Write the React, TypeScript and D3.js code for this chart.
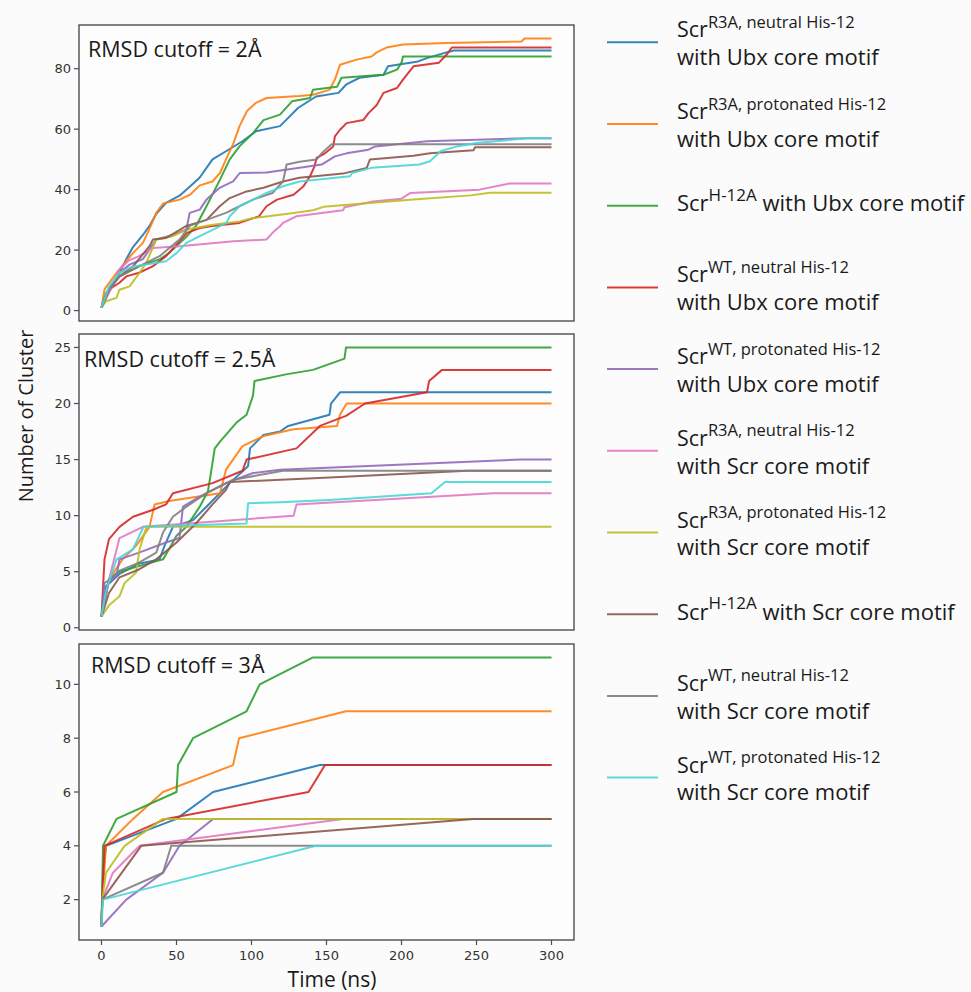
import React from "react";
import * as d3 from "d3";

type Pt = [number, number];

const TIME_TICKS = [0, 50, 100, 150, 200, 250, 300];
const PANEL_TITLES = ["RMSD cutoff = 2Å", "RMSD cutoff = 2.5Å", "RMSD cutoff = 3Å"];
const Y_TICKS_2 = [0, 20, 40, 60, 80];
const Y_TICKS_25 = [0, 5, 10, 15, 20, 25];
const Y_TICKS_3 = [2, 4, 6, 8, 10];

const SERIES_COLORS = [
  "#1f77b4", "#ff7f0e", "#2ca02c", "#d62728", "#9467bd",
  "#e377c2", "#bcbd22", "#8c564b", "#7f7f7f", "#48d6d4",
];
const LEGEND_SUP = [
  "R3A, neutral His-12", "R3A, protonated His-12", "H-12A", "WT, neutral His-12", "WT, protonated His-12",
  "R3A, neutral His-12", "R3A, protonated His-12", "H-12A", "WT, neutral His-12", "WT, protonated His-12",
];
const LEGEND_REST = [
  "with Ubx core motif", "with Ubx core motif", "with Ubx core motif", "with Ubx core motif", "with Ubx core motif",
  "with Scr core motif", "with Scr core motif", "with Scr core motif", "with Scr core motif", "with Scr core motif",
];

// ---- RMSD cutoff = 2 Å ----
const c2_blue: Pt[] = [[0,1],[5,7],[12,12.5],[16.5,17],[21,21],[27.6,25],[32,28],[36.5,32],[43,35.6],[52,38],[59,41],[65.5,44],[74,50],[83,52.7],[94,56],[103,59.3],[119,61],[123,63],[131,67],[143,70.8],[158,72],[163,74.7],[172,77],[188,78],[191,80.8],[211,82.4],[217,83.5],[230,85.4],[235,86],[300,86]];
const c2_orange: Pt[] = [[0,1],[2,7],[10,12.5],[21,19],[27.6,22.4],[32,27],[36.5,32.3],[41,35.4],[52,36.7],[59,38.3],[65.5,41.4],[74,42.7],[79,45.5],[83,50],[88,55.4],[92,61],[97,66],[103,68.7],[110,70.3],[132,71],[141,71.4],[152,73],[155.6,76.4],[159,81.3],[170,83],[180,84],[183.5,85.4],[190,87],[201,88],[230,88.5],[280,89],[282,90],[300,90]];
const c2_green: Pt[] = [[0,1],[3,5.8],[12,11.3],[25,14.6],[39,17],[45,19],[57,24.6],[63,28],[70,34.5],[79,43.3],[85.5,50],[92,54.3],[101,58.7],[108,63],[119,64.8],[127,69.2],[139,70.3],[141,73],[157,74],[160,77],[188,78],[197,79.7],[200,82],[201,84],[300,84]];
const c2_red: Pt[] = [[0,1],[5,7],[12,9.2],[16.5,11.3],[25,12.5],[34,14.6],[43,18],[57,25.7],[65.5,27.3],[74,28],[92,29],[105,31.2],[110,34.5],[117,36.7],[128,38.3],[134.5,41],[139,44.4],[142,47.7],[143.4,50.5],[149,52],[154.5,54.3],[155.6,57.6],[159,59.8],[163.4,62],[174.5,63],[178,65.3],[183.5,68],[188,72],[197,73.6],[201,76.4],[208,80.8],[225,82],[230,84.6],[233.6,87],[300,87]];
const c2_purple: Pt[] = [[0,1],[5,6],[12,12.5],[18.7,15.2],[27.6,17],[36.5,23.5],[47.6,25],[56.6,26.8],[58.8,32.3],[65.5,33.4],[70,36.7],[78.8,40.6],[87.7,42.7],[92.2,45.5],[110,45.7],[132,47.2],[146.8,48.3],[155.6,51],[163.4,52],[178,53.2],[182.4,54.3],[217,56],[284,57],[300,57]];
const c2_pink: Pt[] = [[0,1],[5,6],[12,13.6],[18,16.5],[25,18],[34,20.7],[52,21.3],[88,22.9],[110,23.5],[114,25.7],[119,27.9],[121,29],[130,31.2],[161,33.2],[162,34.2],[181,36.1],[200,37],[206,38.9],[252,40],[272,42],[300,42]];
const c2_olive: Pt[] = [[0,1],[3,3.1],[10,4.2],[12,6.9],[18.7,8],[25.4,12.5],[29.8,15.8],[36.5,23.5],[47.6,24.6],[56.6,26.8],[74.4,28.4],[92,29.5],[101,30.6],[119,31.7],[128,32.3],[141,33.2],[148,34.3],[174.5,35.4],[208,36.7],[246,38.1],[259,39],[300,39]];
const c2_brown: Pt[] = [[0,1],[5,7],[12,11.3],[21,14.6],[32,21.3],[34.3,23.5],[43,24],[56.6,28],[70,30],[78.8,34.5],[85.5,37.2],[96.7,39.4],[108,40.6],[121,42.7],[132,43.9],[161,45.3],[176.8,47.2],[179,50],[208,51.2],[219,52],[248,53],[249,54],[300,54]];
const c2_gray: Pt[] = [[0,1],[5,7],[12,11.3],[25,14.6],[38.7,18],[52,23.5],[58.8,28],[70,30],[83,32.3],[92,34.5],[101,36.7],[114,38.9],[121,42.7],[123.4,48.3],[132,49.2],[143.4,50],[146.8,52],[153.4,55],[300,55]];
const c2_cyan: Pt[] = [[0,1],[5,8],[12,12.5],[21,14.6],[29.8,15.2],[43,16.3],[50,19],[56.6,22.4],[65.5,24.6],[74.4,26.8],[83.3,29],[85.5,31.2],[92,34.5],[101,36.7],[110,38.9],[121,41.1],[132,42.7],[165.7,44.4],[167,45.5],[180,47.2],[212,48.3],[219,49.4],[226,52.7],[237,54.3],[250,55.4],[284,57],[300,57]];

// ---- RMSD cutoff = 2.5 Å ----
const c25_blue: Pt[] = [[0,1],[3,3.7],[12,4.8],[25,5.7],[38.7,6.1],[42,7.3],[47.6,9],[61,9.6],[70,10.8],[85.5,12.9],[97.7,14.4],[99,16],[108,17.2],[119,17.5],[124.5,18],[152,19],[153,20],[159,21],[300,21]];
const c25_orange: Pt[] = [[0,1],[5,4.3],[14,6.1],[23,7.3],[32,9],[35.4,11],[45,11.3],[79,12],[83,14.1],[94,16.2],[108,17.1],[128,17.7],[157,18],[159,19],[163.4,20],[300,20]];
const c25_green: Pt[] = [[0,1],[5,4.3],[12,5],[25,5.5],[41,6.1],[45,7],[50,8.2],[56.6,9],[65.5,10.8],[71,12.2],[73.3,14.1],[75.5,16],[79,16.6],[90,18.3],[96.7,19],[101,20.7],[102,22],[123,22.6],[141,23],[162,24],[163,25],[300,25]];
const c25_red: Pt[] = [[0,1],[2,6.1],[5,7.9],[12,9],[21,9.9],[34,10.5],[43,11],[47.6,12],[74,12.9],[94,14],[96.7,15],[130,16],[145.6,18],[163,18.9],[175.7,20],[217,21],[218.4,22],[227,23],[300,23]];
const c25_purple: Pt[] = [[0,1],[2,4],[10,4.6],[12,6.1],[25,6.7],[43,7.6],[52,8],[54.3,10.8],[65.5,11.7],[83,12.9],[101,13.8],[119,14.1],[279,15],[300,15]];
const c25_pink: Pt[] = [[0,1],[5,4.3],[12,8],[27.6,9],[128,10],[130,11],[261,12],[300,12]];
const c25_olive: Pt[] = [[0,1],[5,2],[12,2.8],[15.4,4],[23,4.9],[25.4,7],[30,9],[300,9]];
const c25_brown: Pt[] = [[0,1],[5,3.1],[12,4.5],[25,5.2],[36.5,6.1],[50,7.6],[63,9.3],[74,11],[83,12.3],[85.5,13],[152,13.4],[244,14],[300,14]];
const c25_gray: Pt[] = [[0,1],[5,4.3],[12,5.1],[25,5.8],[36.5,6.7],[41,8.5],[47.6,9.9],[56.6,10.8],[70,12],[87.7,13.2],[121,14],[300,14]];
const c25_cyan: Pt[] = [[0,1],[3,3.3],[10,6.1],[21,7],[27.6,8.9],[28,9],[96.7,9.3],[97.7,11.1],[119,11.2],[152,11.4],[220,12],[229,13],[300,13]];

// ---- RMSD cutoff = 3 Å ----
const c3_blue: Pt[] = [[0,1],[1,3],[3,4],[50,5],[74.4,6],[145.6,7],[300,7]];
const c3_orange: Pt[] = [[0,1],[0.5,2],[3,4],[21,5],[41,6],[87.7,7],[91.7,8],[163,9],[300,9]];
const c3_green: Pt[] = [[0,1],[1,4],[10,5],[50,6],[51,7],[61,8],[96.7,9],[105.5,10],[141,11],[300,11]];
const c3_red: Pt[] = [[0,1],[0.5,2],[2,4],[43,5],[138,6],[149,7],[300,7]];
const c3_purple: Pt[] = [[0,1],[16.5,2],[41,3],[52,4],[74.4,5],[300,5]];
const c3_pink: Pt[] = [[0,1],[0.5,2],[7.6,3],[25.4,4],[161,5],[300,5]];
const c3_olive: Pt[] = [[0,1],[0.5,2],[3,3],[15.4,4],[41,5],[300,5]];
const c3_brown: Pt[] = [[0,1],[0.5,2],[26.5,4],[248,5],[300,5]];
const c3_gray: Pt[] = [[0,1],[0.5,2],[41,3],[46.5,4],[300,4]];
const c3_cyan: Pt[] = [[0,1],[1,2],[143,4],[300,4]];

const PANEL_SERIES: Pt[][][] = [
  [c2_blue, c2_orange, c2_green, c2_red, c2_purple, c2_pink, c2_olive, c2_brown, c2_gray, c2_cyan],
  [c25_blue, c25_orange, c25_green, c25_red, c25_purple, c25_pink, c25_olive, c25_brown, c25_gray, c25_cyan],
  [c3_blue, c3_orange, c3_green, c3_red, c3_purple, c3_pink, c3_olive, c3_brown, c3_gray, c3_cyan],
];
const PANEL_Y_TICKS = [Y_TICKS_2, Y_TICKS_25, Y_TICKS_3];

// ---- layout ----
const W = 971;
const H = 992;
const AX_LEFT = 79;
const AX_RIGHT = 574;
const PANEL_TOPS = [25, 334, 644];
const PANEL_H = 296;
const TITLE_DX = [9, 5, 12];
const TITLE_DY = [32, 33, 29];
const LEGEND_Y0 = 42.3;
const LEGEND_STEP = 81.7;

const TEXT_FONT = "'Open Sans', 'Noto Sans', sans-serif";
const TICK_FONT = "'DejaVu Sans', sans-serif";

function padDomain(lo: number, hi: number): [number, number] {
  const p = (hi - lo) * 0.05;
  return [lo - p, hi + p];
}

export default function App() {
  const allT = PANEL_SERIES.flat(2).map((d) => d[0]);
  const x = d3
    .scaleLinear()
    .domain(padDomain(d3.min(allT)!, d3.max(allT)!))
    .range([AX_LEFT, AX_RIGHT]);

  return (
    <div style={{ position: "absolute", left: 0, top: 0 }}>
      <svg width={W} height={H} style={{ display: "block", background: "#fbfbfb" }}>
        <rect x={0} y={0} width={W} height={H} fill="#fbfbfb" />
        {PANEL_SERIES.map((series, pi) => {
          const top = PANEL_TOPS[pi];
          const bottom = top + PANEL_H;
          const vals = series.flat().map((d) => d[1]);
          const y = d3
            .scaleLinear()
            .domain(padDomain(d3.min(vals)!, d3.max(vals)!))
            .range([bottom, top]);
          const line = d3
            .line<Pt>()
            .x((d) => x(d[0]))
            .y((d) => y(d[1]));
          return (
            <g key={pi}>
              <rect x={AX_LEFT} y={top} width={AX_RIGHT - AX_LEFT} height={PANEL_H} fill="#fdfdfd" />
              <clipPath id={`clip${pi}`}>
                <rect x={AX_LEFT} y={top} width={AX_RIGHT - AX_LEFT} height={PANEL_H} />
              </clipPath>
              <g clipPath={`url(#clip${pi})`}>
                {series.map((s, si) => (
                  <path
                    key={si}
                    d={line(s) || ""}
                    fill="none"
                    stroke={SERIES_COLORS[si]}
                    strokeOpacity={0.9}
                    strokeWidth={2}
                    strokeLinejoin="round"
                  />
                ))}
              </g>
              <rect
                x={AX_LEFT}
                y={top}
                width={AX_RIGHT - AX_LEFT}
                height={PANEL_H}
                fill="none"
                stroke="#4d4d4d"
                strokeWidth={1.4}
              />
              {PANEL_Y_TICKS[pi].map((t) => (
                <g key={t} transform={`translate(0,${y(t)})`}>
                  <line x1={AX_LEFT - 5} x2={AX_LEFT} stroke="#4d4d4d" strokeWidth={1.2} />
                  <text
                    x={AX_LEFT - 8}
                    dy="0.35em"
                    textAnchor="end"
                    fontFamily={TICK_FONT}
                    fontSize={13}
                    fill="#333"
                  >
                    {t}
                  </text>
                </g>
              ))}
              <text
                x={AX_LEFT + TITLE_DX[pi]}
                y={top + TITLE_DY[pi]}
                fontFamily={TEXT_FONT}
                fontSize={21.5}
                fill="#1a1a1a"
              >
                {PANEL_TITLES[pi]}
              </text>
              {pi === 2 &&
                TIME_TICKS.map((t) => (
                  <g key={t} transform={`translate(${x(t)},${bottom})`}>
                    <line y1={0} y2={5} stroke="#4d4d4d" strokeWidth={1.2} />
                    <text
                      y={20}
                      textAnchor="middle"
                      fontFamily={TICK_FONT}
                      fontSize={13}
                      fill="#333"
                    >
                      {t}
                    </text>
                  </g>
                ))}
            </g>
          );
        })}
        <text
          x={332}
          y={987}
          textAnchor="middle"
          fontFamily={TEXT_FONT}
          fontSize={21}
          fill="#1a1a1a"
        >
          Time (ns)
        </text>
        <text
          transform="translate(33,416) rotate(-90)"
          textAnchor="middle"
          fontFamily={TEXT_FONT}
          fontSize={20}
          fill="#1a1a1a"
        >
          Number of Cluster
        </text>
        {SERIES_COLORS.map((c, i) => {
          const ly = LEGEND_Y0 + i * LEGEND_STEP;
          const twoLine = LEGEND_SUP[i].includes(",");
          return (
            <g key={i}>
              <line x1={607} x2={658} y1={ly} y2={ly} stroke={c} strokeWidth={2} strokeOpacity={0.9} />
              {twoLine ? (
                <>
                  <text x={677} y={ly - 5} fontFamily={TEXT_FONT} fontSize={21.5} fill="#1a1a1a">
                    Scr
                    <tspan dy={-9.5} fontSize={16.5}>
                      {LEGEND_SUP[i]}
                    </tspan>
                  </text>
                  <text x={677} y={ly + 22.7} fontFamily={TEXT_FONT} fontSize={22} fill="#1a1a1a">
                    {LEGEND_REST[i]}
                  </text>
                </>
              ) : (
                <text x={677} y={ly + 5.7} fontFamily={TEXT_FONT} fontSize={22} fill="#1a1a1a">
                  Scr
                  <tspan dy={-10.5} fontSize={17}>
                    {LEGEND_SUP[i]}
                  </tspan>
                  <tspan dy={10.5}> {LEGEND_REST[i]}</tspan>
                </text>
              )}
            </g>
          );
        })}
      </svg>
    </div>
  );
}
